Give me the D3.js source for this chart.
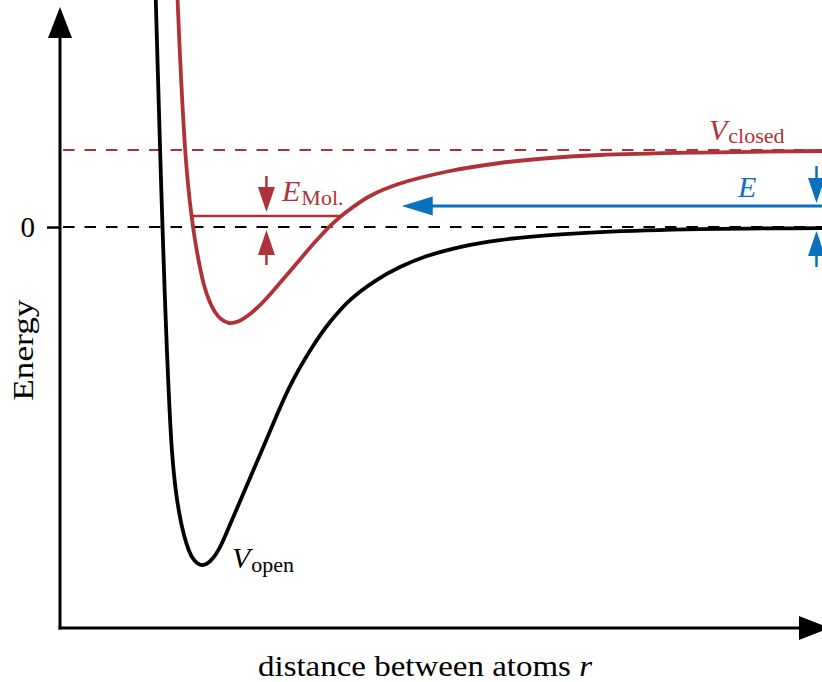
<!DOCTYPE html>
<html>
<head>
<meta charset="utf-8">
<script src="https://cdn.jsdelivr.net/npm/d3@7"></script>
<style>
  html, body { margin: 0; padding: 0; background: #fff; }
  svg { display: block; }
  text { font-family: "Liberation Serif", "Times New Roman", serif; }
</style>
</head>
<body>
<svg id="chart" width="822" height="682"></svg>
<script>
// Interatomic distance r (arbitrary units) and energies in units of the closed-channel threshold.
const rOpen = [0.8146, 0.8317, 0.8539, 0.8744, 0.9119, 0.9545, 0.9895, 1.0237, 1.0578, 1.0919, 1.1260, 1.1687,
               1.2113, 1.2540, 1.3052, 1.3649, 1.4672, 1.7231, 1.9619, 2.1581, 2.3031, 2.4738, 2.6870, 2.9003,
               3.1306, 3.4121, 3.7533, 4.1798, 4.6063, 5.4593, 6.5];
const vOpen = [3.080, 2.170, 1.000, 0.000, -1.598, -2.898, -3.443, -3.768, -4.002, -4.171, -4.288, -4.366,
               -4.392, -4.374, -4.301, -4.158, -3.807, -2.898, -2.066, -1.546, -1.234, -0.949, -0.702, -0.520,
               -0.377, -0.260, -0.169, -0.104, -0.065, -0.026, -0.013];

const rClosed = [0.9997, 1.0066, 1.0253, 1.0424, 1.0680, 1.0970, 1.1226, 1.1516, 1.1900, 1.2284, 1.2710, 1.3222,
                 1.3734, 1.4416, 1.5184, 1.6207, 1.7231, 1.8170, 1.9193, 2.0217, 2.1752, 2.3117, 2.4311, 2.6444,
                 2.9003, 3.3268, 3.7533, 4.1798, 4.6063, 5.4593, 6.5];
const vClosed = [3.080, 2.820, 2.170, 1.650, 1.000, 0.481, 0.143, -0.169, -0.494, -0.754, -0.949, -1.104,
                 -1.195, -1.247, -1.228, -1.130, -0.988, -0.832, -0.650, -0.468, -0.195, 0.026, 0.182, 0.403,
                 0.565, 0.728, 0.832, 0.897, 0.936, 0.968, 0.988];

const thresholdOpen = 0;          // V_open(r -> infinity)
const thresholdClosed = 1.0;      // V_closed(r -> infinity)
const molecularLevel = 0.143;     // bound molecular state in the closed channel
const molecularSpan = [1.123, 2.401];
const collisionEnergy = 0.273;    // incoming collision energy E
const collisionFrom = 2.915;      // where the incoming arrow ends
const markerR = 6.453;            // r position of the E bracket arrows
const markerRMol = 1.761;         // r position of the E_Mol. bracket arrows

const yTickValues = [0];
const yTickLabels = ["0"];

const RED = "#b03238";
const BLUE = "#0b70bd";
const BLACK = "#000";

const svg = d3.select("#chart");
const x = d3.scaleLinear().domain([0, 6.5]).range([60, 822]);
const y = d3.scaleLinear().domain([-5.21, 2.82]).range([628, 10]);

const x0 = x(0), y0 = y(-5.21);

// arrowhead helper: triangle with tip at (tx, ty), pointing along (dx, dy)
function head(g, tx, ty, dx, dy, len, half, color) {
  const bx = tx - dx * len, by = ty - dy * len;
  const px = -dy * half, py = dx * half;
  g.append("path")
    .attr("d", `M${tx},${ty}L${bx + px},${by + py}L${bx - px},${by - py}Z`)
    .attr("fill", color);
}

// threshold dashed lines
svg.append("line")
  .attr("x1", x0 + 3).attr("x2", x(6.5))
  .attr("y1", y(thresholdClosed)).attr("y2", y(thresholdClosed))
  .attr("stroke", RED).attr("stroke-width", 2).attr("stroke-dasharray", "11.5,10");
svg.append("line")
  .attr("x1", x0 + 3).attr("x2", x(6.5))
  .attr("y1", y(thresholdOpen)).attr("y2", y(thresholdOpen))
  .attr("stroke", BLACK).attr("stroke-width", 2).attr("stroke-dasharray", "11.5,10");

// axes
const axes = svg.append("g");
axes.append("line").attr("x1", x0).attr("x2", x0).attr("y1", y0 + 1.5).attr("y2", 30)
  .attr("stroke", BLACK).attr("stroke-width", 3);
head(axes, x0, 7, 0, -1, 31, 12, BLACK);
axes.append("line").attr("x1", x0 - 1.5).attr("x2", 805).attr("y1", y0).attr("y2", y0)
  .attr("stroke", BLACK).attr("stroke-width", 3);
head(axes, 830, y0, 1, 0, 31, 12, BLACK);

const yAxis = d3.axisLeft(y).tickValues(yTickValues)
  .tickFormat((d, i) => yTickLabels[i]).tickSize(13).tickPadding(12).tickSizeOuter(0);
const ya = svg.append("g").attr("transform", `translate(${x0},0)`).call(yAxis);
ya.select(".domain").remove();
ya.selectAll(".tick line").attr("stroke", BLACK).attr("stroke-width", 2.5);
ya.selectAll(".tick text")
  .attr("font-family", "Liberation Serif, serif").attr("font-size", 29)
  .attr("fill", BLACK).attr("dy", "0.34em");

// axis titles
svg.append("text")
  .attr("transform", `translate(33,${y(-1.6)}) rotate(-90)`)
  .attr("text-anchor", "middle").attr("font-size", 30)
  .attr("textLength", 101).attr("lengthAdjust", "spacingAndGlyphs")
  .text("Energy");
const xt = svg.append("text")
  .attr("x", 258).attr("y", 676).attr("font-size", 30)
  .attr("textLength", 334).attr("lengthAdjust", "spacingAndGlyphs");
xt.append("tspan").text("distance between atoms ");
xt.append("tspan").attr("font-style", "italic").text("r");

// potential curves
const line = d3.line().x(d => x(d[0])).y(d => y(d[1])).curve(d3.curveCatmullRom.alpha(0.5));
svg.append("path").datum(d3.zip(rOpen, vOpen)).attr("d", line)
  .attr("fill", "none").attr("stroke", BLACK).attr("stroke-width", 3.8).attr("stroke-linejoin", "round");
svg.append("path").datum(d3.zip(rClosed, vClosed)).attr("d", line)
  .attr("fill", "none").attr("stroke", RED).attr("stroke-width", 3.8).attr("stroke-linejoin", "round");

// molecular bound level and its bracket arrows
svg.append("line")
  .attr("x1", x(molecularSpan[0])).attr("x2", x(molecularSpan[1]))
  .attr("y1", y(molecularLevel)).attr("y2", y(molecularLevel))
  .attr("stroke", RED).attr("stroke-width", 2.5);
const mg = svg.append("g");
const mx = x(markerRMol);
mg.append("line").attr("x1", mx).attr("x2", mx).attr("y1", y(molecularLevel) - 40).attr("y2", y(molecularLevel) - 20)
  .attr("stroke", RED).attr("stroke-width", 2.5);
head(mg, mx, y(molecularLevel) - 4, 0, 1, 25, 8.5, RED);
mg.append("line").attr("x1", mx).attr("x2", mx).attr("y1", y(thresholdOpen) + 20).attr("y2", y(thresholdOpen) + 38)
  .attr("stroke", RED).attr("stroke-width", 2.5);
head(mg, mx, y(thresholdOpen) + 3, 0, -1, 25, 8.5, RED);

// incoming collision energy arrow
const bg = svg.append("g");
bg.append("line")
  .attr("x1", x(6.5)).attr("x2", x(collisionFrom) + 25)
  .attr("y1", y(collisionEnergy)).attr("y2", y(collisionEnergy))
  .attr("stroke", BLUE).attr("stroke-width", 3);
head(bg, x(collisionFrom), y(collisionEnergy), -1, 0, 31, 9.5, BLUE);
const bx = x(markerR);
bg.append("line").attr("x1", bx).attr("x2", bx).attr("y1", y(collisionEnergy) - 40).attr("y2", y(collisionEnergy) - 20)
  .attr("stroke", BLUE).attr("stroke-width", 2.5);
head(bg, bx, y(collisionEnergy) - 3, 0, 1, 25, 8.5, BLUE);
bg.append("line").attr("x1", bx).attr("x2", bx).attr("y1", y(thresholdOpen) + 20).attr("y2", y(thresholdOpen) + 40)
  .attr("stroke", BLUE).attr("stroke-width", 2.5);
head(bg, bx, y(thresholdOpen) + 4, 0, -1, 25, 8.5, BLUE);

// curve and level labels
function label(px, py, main, sub, color, subDy) {
  const t = svg.append("text").attr("x", px).attr("y", py).attr("fill", color).attr("font-size", 30);
  t.append("tspan").attr("font-style", "italic").text(main);
  if (sub) t.append("tspan").attr("font-size", 22).attr("dx", 1).attr("dy", subDy).text(sub);
}
label(709, 140, "V", "closed", RED, 3);
label(232, 568, "V", "open", BLACK, 4);
label(282, 201, "E", "Mol.", RED, 4);
label(738, 197, "E", null, BLUE, 0);
</script>
</body>
</html>
